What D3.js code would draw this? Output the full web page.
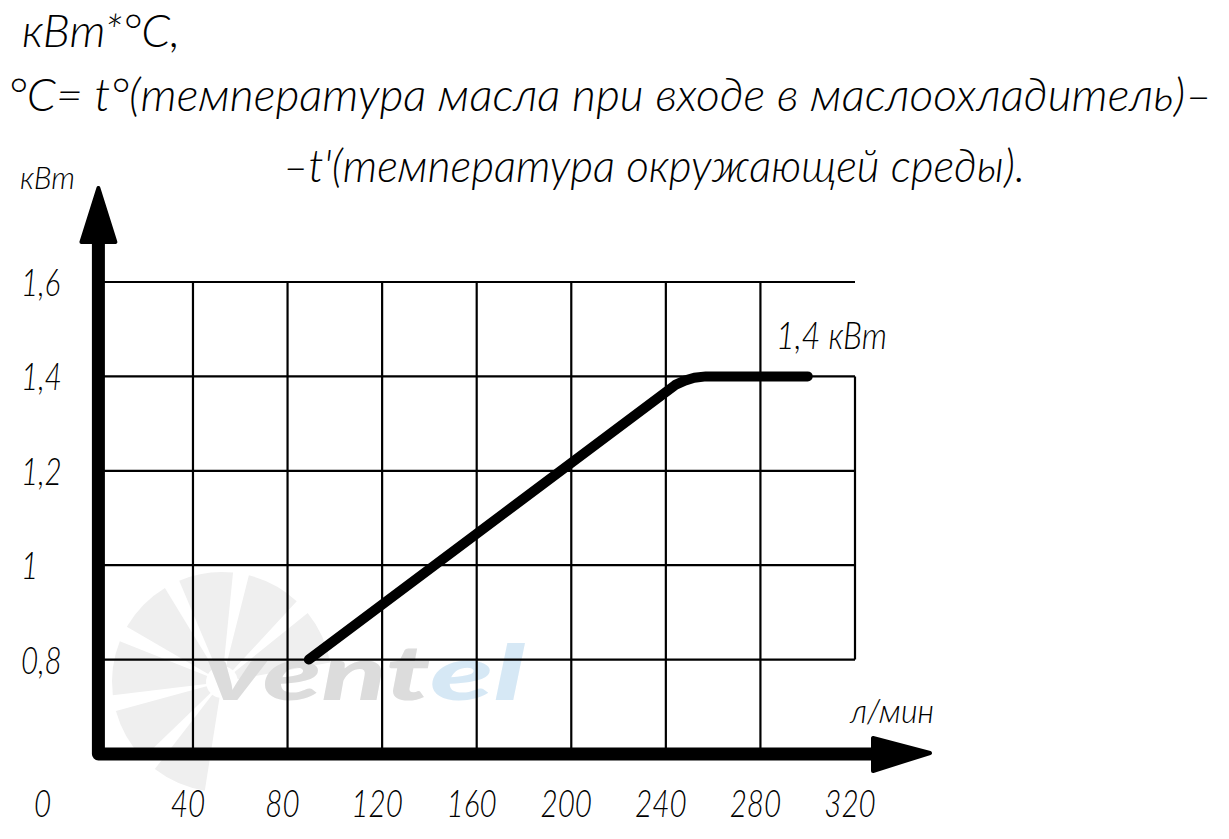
<!DOCTYPE html>
<html><head><meta charset="utf-8">
<script src="https://cdn.jsdelivr.net/npm/d3@7"></script>
<style>
html,body{margin:0;padding:0;background:#fff;}
svg{display:block;}
text{font-family:Lato,Roboto,"Open Sans","DejaVu Sans",sans-serif;font-style:italic;font-weight:300;fill:#000;}
</style></head>
<body>
<script>
// ---- data ----
const flowTicks = [40, 80, 120, 160, 200, 240, 280, 320];          // л/мин
const powerTicks = [0.8, 1, 1.2, 1.4, 1.6];                        // кВт
const powerTickLabels = ["0,8", "1", "1,2", "1,4", "1,6"];
const flowValues  = [89, 244, 248, 252, 257, 300];                  // л/мин
const powerValues = [0.8, 1.382, 1.391, 1.397, 1.4, 1.4];           // кВт
const titleLines = [
  "кВт*°С,",
  "°С= t°(температура масла при входе в маслоохладитель)–",
  "–t'(температура окружающей среды)."
];
const yUnit = "кВт", xUnit = "л/мин", endLabel = "1,4 кВт", originLabel = "0";

const W = 1229, H = 839;
const svg = d3.select("body").append("svg").attr("width", W).attr("height", H);

const x = d3.scaleLinear().domain([0, 320]).range([98.4, 855]);
const y = d3.scaleLinear().domain([0.6, 1.6]).range([754, 282]);

// ---- faint watermark ----
const wm = svg.append("g");
const arc = d3.arc().innerRadius(16).outerRadius(110);
const nBl = 7;
for (let i = 0; i < nBl; i++) {
  const a0 = -Math.PI * 0.95 + i * (Math.PI * 2 / nBl) * 0.72;
  wm.append("path")
    .attr("d", arc({startAngle: a0, endAngle: a0 + 0.5}))
    .attr("transform", "translate(222,682)")
    .attr("fill", "#efefef");
}
wm.append("text").text("vent").attr("x", 205).attr("y", 700)
  .attr("textLength", 225).attr("lengthAdjust", "spacingAndGlyphs")
  .style("font-size", "76px").style("font-weight", 900).style("fill", "#dcdcdc");
wm.append("text").text("el").attr("x", 430).attr("y", 700)
  .attr("textLength", 95).attr("lengthAdjust", "spacingAndGlyphs")
  .style("font-size", "76px").style("font-weight", 900).style("fill", "#d6e8f5");

// ---- grid ----
const grid = svg.append("g").attr("stroke", "#000").attr("stroke-width", 2.2).attr("fill", "none");
powerTicks.forEach(v => {
  grid.append("line").attr("x1", x(0)).attr("x2", x(320)).attr("y1", y(v)).attr("y2", y(v));
});
flowTicks.forEach(v => {
  if (v < 320) grid.append("line").attr("x1", x(v)).attr("x2", x(v)).attr("y1", y(1.6)).attr("y2", y(0.6));
  else grid.append("line").attr("x1", x(v)).attr("x2", x(v)).attr("y1", y(1.4)).attr("y2", y(0.8));
});

// ---- curve ----
const pts = flowValues.map((f, i) => [f, powerValues[i]]);
svg.append("path").datum(pts)
  .attr("d", d3.line().x(d => x(d[0])).y(d => y(d[1])))
  .attr("fill", "none").attr("stroke", "#000").attr("stroke-width", 10)
  .attr("stroke-linecap", "round").attr("stroke-linejoin", "round");

// ---- axes ----
const ax = svg.append("g");
ax.append("path")
  .attr("d", `M${x(0)},240 L${x(0)},${y(0.6)} L874,${y(0.6)}`)
  .attr("fill", "none").attr("stroke", "#000").attr("stroke-width", 13)
  .attr("stroke-linejoin", "round").attr("stroke-linecap", "butt");
const ax0 = x(0);
ax.append("path")
  .attr("d", `M${ax0},188 L${ax0+17},242 L${ax0-17},242 Z`)
  .attr("fill", "#000").attr("stroke", "#000").attr("stroke-width", 4).attr("stroke-linejoin", "round");
const ay0 = y(0.6);
ax.append("path")
  .attr("d", `M930,${ay0-1} L873,${ay0-16} L873,${ay0+17} Z`)
  .attr("fill", "#000").attr("stroke", "#000").attr("stroke-width", 4).attr("stroke-linejoin", "round");

// ---- text helper: narrow italic text ----
function ntext(str, px, py, size, sx, anchor) {
  const g = svg.append("g").attr("transform", `translate(${px},${py}) scale(${sx},1)`);
  g.append("text").text(str).attr("x", 0).attr("y", 0)
    .attr("text-anchor", anchor || "start").style("font-size", size + "px");
  return g;
}

flowTicks.forEach(v => ntext(String(v), x(v) - 5, 817, 38, 0.78, "middle"));
powerTicks.forEach((v, i) => ntext(powerTickLabels[i], 21, y(v) + 14, 38, 0.78, "start"));
ntext(originLabel, 34, 817, 38, 0.78, "start");

ntext(yUnit, 20, 189, 32, 0.95, "start");
ntext(xUnit, 850, 723, 34, 0.95, "start");
ntext(endLabel, 776, 349, 38, 0.85, "start");

const titlePos = [[22, 47, 158], [8, 111, 1204], [283, 182, 742]];
titleLines.forEach((t, i) => {
  svg.append("text").text(t)
    .attr("x", titlePos[i][0]).attr("y", titlePos[i][1])
    .attr("textLength", titlePos[i][2]).attr("lengthAdjust", "spacingAndGlyphs")
    .style("font-size", "45px");
});
</script>
</body></html>
